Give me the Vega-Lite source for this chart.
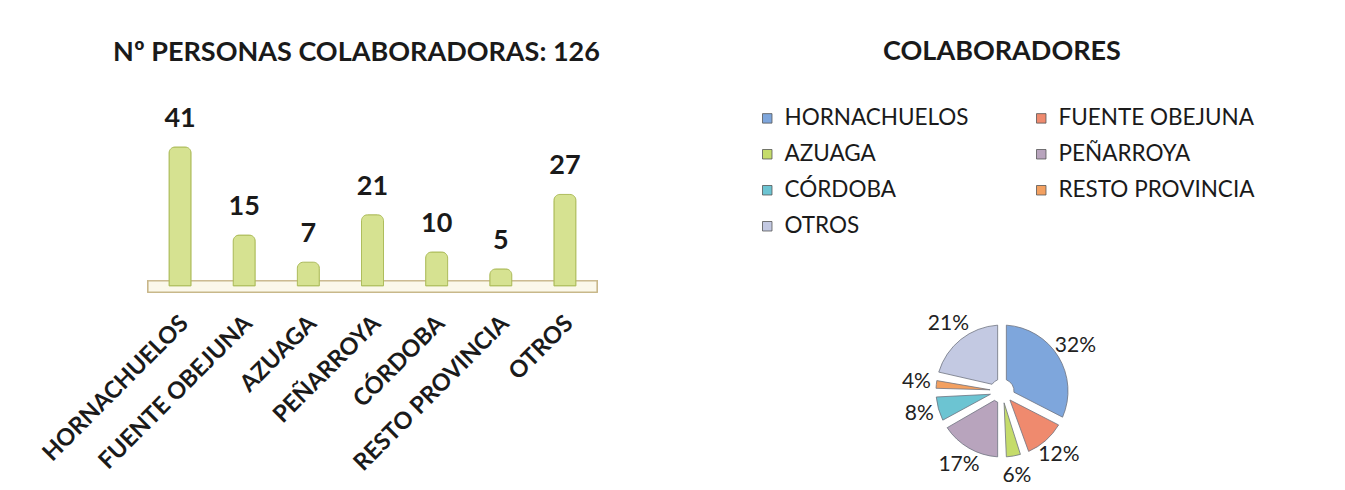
{
  "$schema": "https://vega.github.io/schema/vega-lite/v6.json",
  "background": "white",
  "padding": {"left": 38, "top": 38, "right": 0, "bottom": 0},
  "config": {"view": {"stroke": null}, "font": "Lato"},
  "datasets": {
    "colab": [
      {"idx": 1, "lugar": "HORNACHUELOS", "n": 41, "pct": "32%"},
      {"idx": 2, "lugar": "FUENTE OBEJUNA", "n": 15, "pct": "12%"},
      {"idx": 3, "lugar": "AZUAGA", "n": 7, "pct": "6%"},
      {"idx": 4, "lugar": "PEÑARROYA", "n": 21, "pct": "17%"},
      {"idx": 5, "lugar": "CÓRDOBA", "n": 10, "pct": "8%"},
      {"idx": 6, "lugar": "RESTO PROVINCIA", "n": 5, "pct": "4%"},
      {"idx": 7, "lugar": "OTROS", "n": 27, "pct": "21%"}
    ]
  },
  "resolve": {"legend": {"color": "independent"}, "scale": {"color": "independent"}},
  "spacing": 102,
  "hconcat": [
    {
      "width": 449,
      "height": 145,
      "title": {"text": "Nº PERSONAS COLABORADORAS: 126", "fontSize": 27, "fontWeight": "bold", "color": "#1a1a1a", "offset": 38, "dx": -16},
      "data": {"name": "colab"},
      "layer": [
        {
          "mark": {"type": "rect", "fill": "#fbf8ea", "stroke": "#c8b78a", "strokeWidth": 1.2},
          "encoding": {"y": {"datum": -1.8, "type": "quantitative", "scale": {"domain": [-1.8, 41]}, "axis": null}, "y2": {"datum": 1.5}}
        },
        {
          "mark": {"type": "bar", "width": 22, "fill": "#d6e291", "stroke": "#aebd5c", "strokeWidth": 1, "cornerRadiusTopLeft": 6, "cornerRadiusTopRight": 6},
          "encoding": {
            "x": {"field": "lugar", "type": "nominal", "sort": null, "scale": {"paddingInner": 0, "paddingOuter": 0},
              "axis": {"labelAngle": -45, "labelFontSize": 23.5, "labelFontWeight": "bold", "labelColor": "#1a1a1a", "domain": false, "ticks": false, "title": null, "labelPadding": 19, "labelOffset": -4, "labelLimit": 400, "labelOverlap": false}},
            "y": {"field": "n", "type": "quantitative", "axis": null, "scale": {"domain": [-1.8, 41]}}
          }
        },
        {
          "mark": {"type": "text", "dy": -28, "fontSize": 27, "fontWeight": "bold", "color": "#1a1a1a"},
          "encoding": {
            "x": {"field": "lugar", "type": "nominal", "sort": null},
            "y": {"field": "n", "type": "quantitative", "scale": {"domain": [-1.8, 41]}},
            "text": {"field": "n", "type": "quantitative"}
          }
        }
      ]
    },
    {
      "width": 600,
      "height": 488,
      "title": {"text": "COLABORADORES", "fontSize": 27, "fontWeight": "bold", "color": "#1a1a1a", "offset": 41},
      "data": {"name": "colab"},
      "encoding": {
        "theta": {"field": "n", "type": "quantitative", "stack": true},
        "order": {"field": "idx", "type": "quantitative"}
      },
      "layer": [
        {
          "mark": {"type": "arc", "outerRadius": 66, "innerRadius": 12, "padAngle": 0.13, "stroke": "#6f7480", "strokeWidth": 0.8},
          "encoding": {
            "color": {
              "field": "lugar", "type": "nominal",
              "scale": {
                "domain": ["HORNACHUELOS", "FUENTE OBEJUNA", "AZUAGA", "PEÑARROYA", "CÓRDOBA", "RESTO PROVINCIA", "OTROS"],
                "range": ["#7ea6dc", "#ef8a6e", "#c5dc6a", "#b8a4bd", "#6cc4d2", "#f3a060", "#c3c9e2"]
              },
              "legend": {
                "orient": "none", "legendX": 54, "legendY": -40, "columns": 2, "direction": "horizontal", "title": null,
                "symbolType": "square", "symbolSize": 90, "labelFontSize": 22.5, "labelColor": "#1a1a1a", "labelLimit": 400, "labelOffset": 6,
                "rowPadding": 13, "columnPadding": 61, "symbolStrokeWidth": 0.8, "symbolStrokeColor": "#555"
              }
            }
          }
        },
        {
          "mark": {"type": "text", "radius": 86, "fontSize": 21, "color": "#222"},
          "encoding": {"text": {"field": "pct", "type": "nominal"}}
        }
      ]
    }
  ]
}
